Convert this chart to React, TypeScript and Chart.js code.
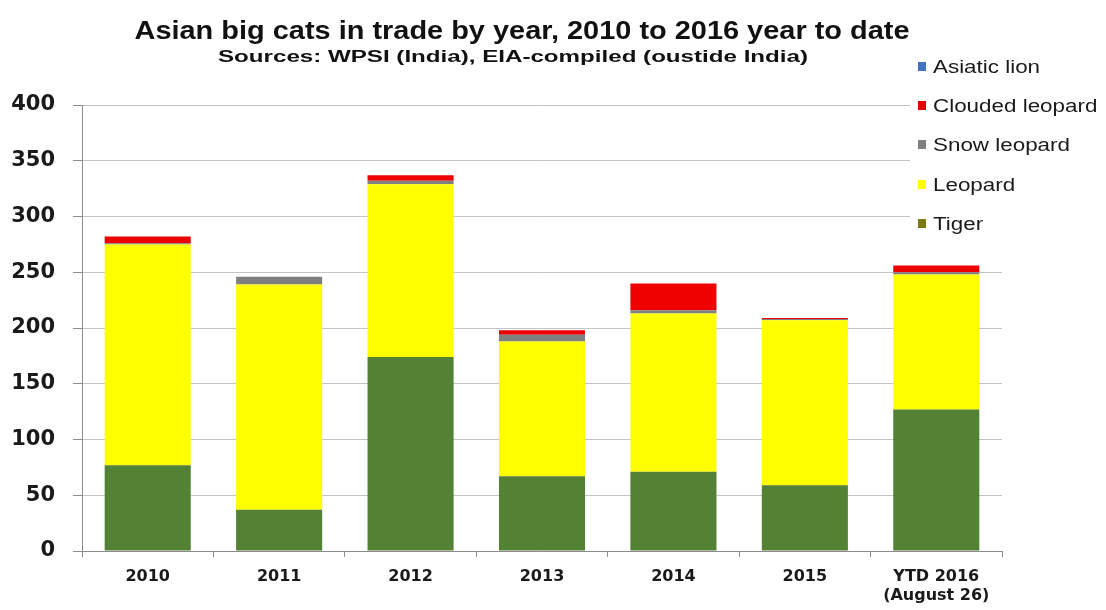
import React, { useEffect, useRef } from 'react';
import { Chart, registerables } from 'chart.js';

Chart.register(...registerables);

// ---------- data ----------
const categories: (string | string[])[] = ['2010', '2011', '2012', '2013', '2014', '2015', ['YTD 2016', '(August 26)']];
const tiger = [77, 37, 174, 67, 71, 59, 127];
const leopard = [198, 202, 155, 121, 142, 148, 121];
const snowLeopard = [1, 7, 3, 6, 3, 1, 2];
const cloudedLeopard = [6, 0, 5, 4, 24, 1, 6];
const asiaticLion = [0, 0, 0, 0, 0, 0, 0];
const yTickValues = [0, 50, 100, 150, 200, 250, 300, 350, 400];

const titleText = 'Asian big cats in trade by year, 2010 to 2016 year to date';
const subtitleText = 'Sources: WPSI (India), EIA-compiled (oustide India)';

// ---------- styles ----------
const COLORS = {
  tiger: '#548235',
  leopard: '#FFFF00',
  snow: '#808080',
  clouded: '#EE0000',
  lion: '#4472C4',
};
const LEGEND_SWATCH: Record<string, string> = {
  'Asiatic lion': '#4472C4',
  'Clouded leopard': '#E00000',
  'Snow leopard': '#808080',
  'Leopard': '#FFFF00',
  'Tiger': '#7A7A12',
};

function drawStretched(ctx: CanvasRenderingContext2D, text: string, x: number, y: number, font: string, sx: number, align: CanvasTextAlign) {
  ctx.save();
  ctx.font = font;
  ctx.textAlign = align;
  ctx.textBaseline = 'alphabetic';
  ctx.translate(x, y);
  ctx.scale(sx, 1);
  ctx.fillText(text, 0, 0);
  ctx.restore();
}

function drawFitWidth(ctx: CanvasRenderingContext2D, text: string, cx: number, y: number, font: string, targetW: number) {
  ctx.save();
  ctx.font = font;
  const w = ctx.measureText(text).width;
  ctx.restore();
  drawStretched(ctx, text, cx, y, font, targetW / w, 'center');
}

const decorPlugin = {
  id: 'decor',
  afterDraw(chart: any) {
    const ctx: CanvasRenderingContext2D = chart.ctx;
    ctx.save();
    ctx.fillStyle = '#111111';
    drawFitWidth(ctx, titleText, 522, 39, 'bold 25px "Liberation Sans", Arial, sans-serif', 775);
    drawFitWidth(ctx, subtitleText, 513, 62, 'bold 16px "Liberation Sans", Arial, sans-serif', 590);

    // legend (reverse of stacking order)
    ctx.fillStyle = '#ffffff';
    ctx.fillRect(910, 48, 196, 192);
    const ds = chart.data.datasets.slice().reverse();
    const rowY = [66, 105, 144, 184, 223];
    ds.forEach((d: any, i: number) => {
      const y = rowY[i];
      ctx.fillStyle = LEGEND_SWATCH[d.label] || d.backgroundColor;
      ctx.fillRect(918, y - 4, 8, 9);
      ctx.fillStyle = '#1a1a1a';
      drawStretched(ctx, d.label, 933, y + 6.5, '17.5px "Liberation Sans", Arial, sans-serif', 1.28, 'left');
    });
    ctx.restore();
  },
};

export default function App() {
  const ref = useRef<HTMLCanvasElement | null>(null);

  useEffect(() => {
    if (!ref.current) return;
    const chart = new Chart(ref.current, {
      type: 'bar',
      data: {
        labels: categories as any,
        datasets: [
          { label: 'Tiger', data: tiger, backgroundColor: COLORS.tiger },
          { label: 'Leopard', data: leopard, backgroundColor: COLORS.leopard },
          { label: 'Snow leopard', data: snowLeopard, backgroundColor: COLORS.snow },
          { label: 'Clouded leopard', data: cloudedLeopard, backgroundColor: COLORS.clouded },
          { label: 'Asiatic lion', data: asiaticLion, backgroundColor: COLORS.lion },
        ],
      },
      options: {
        responsive: false,
        animation: false,
        layout: { padding: { left: 0, right: 104, top: 105, bottom: 0 } },
        datasets: { bar: { categoryPercentage: 1, barPercentage: 0.655 } },
        plugins: {
          legend: { display: false },
          title: { display: false },
          tooltip: { enabled: false },
        },
        scales: {
          x: {
            stacked: true,
            grid: {
              display: true,
              drawOnChartArea: false,
              drawTicks: true,
              tickLength: 6,
              color: '#8c8c8c',
              offset: true,
            },
            border: { color: '#8c8c8c', width: 1 },
            ticks: {
              color: '#1a1a1a',
              padding: 11,
              maxRotation: 0,
              autoSkip: false,
              font: { family: '"DejaVu Sans", sans-serif', weight: 'bold', size: 16, lineHeight: 1.15 },
            },
            afterFit: (s: any) => { s.height = 59; },
          },
          y: {
            stacked: true,
            min: 0,
            max: 400,
            afterBuildTicks: (s: any) => { s.ticks = yTickValues.map((v) => ({ value: v })); },
            grid: { color: '#c4c4c4', tickColor: '#8c8c8c', tickLength: 9, drawTicks: true },
            border: { color: '#8c8c8c', width: 1 },
            ticks: {
              color: '#1a1a1a',
              padding: 18,
              font: { family: '"DejaVu Sans", sans-serif', weight: 'bold', size: 21 },
            },
            afterFit: (s: any) => { s.width = 82; },
          },
        },
      } as any,
      plugins: [decorPlugin],
    });
    return () => chart.destroy();
  }, []);

  return (
    <div style={{ position: 'fixed', left: 0, top: 0, width: 1106, height: 610, background: '#ffffff' }}>
      <canvas ref={ref} width={1106} height={610} style={{ display: 'block', width: 1106, height: 610 }} />
    </div>
  );
}
